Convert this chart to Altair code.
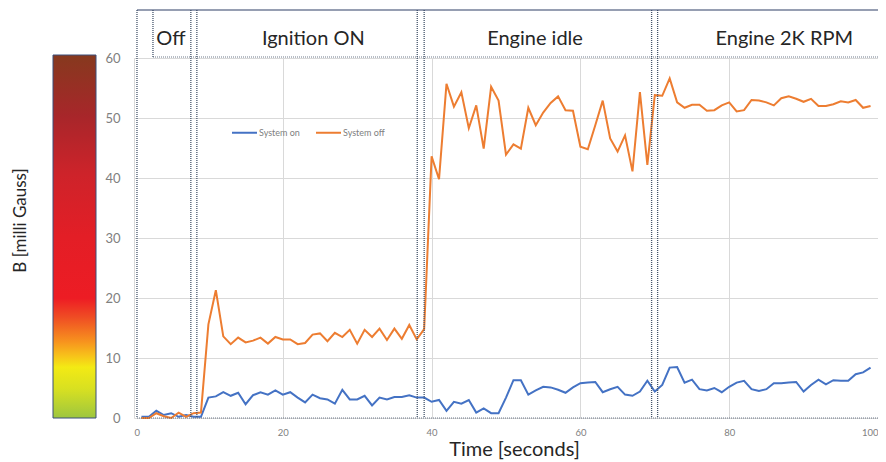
import altair as alt
import pandas as pd

t = list(range(1, 100))
system_on = [0.2, 0.2, 1.2, 0.5, 0.8, 0.2, 0.5, 0.2, 0.2, 3.4,
             3.6, 4.3, 3.7, 4.2, 2.3, 3.8, 4.3, 3.9, 4.6, 3.9,
             4.3, 3.4, 2.6, 3.9, 3.3, 3.1, 2.4, 4.7, 3.1, 3.1,
             3.7, 2.1, 3.4, 3.1, 3.5, 3.5, 3.8, 3.4, 3.4, 2.7,
             3.0, 1.2, 2.7, 2.4, 3.0, 0.9, 1.6, 0.8, 0.8, 3.4,
             6.3, 6.3, 3.9, 4.6, 5.2, 5.1, 4.7, 4.2, 5.1, 5.8,
             5.9, 6.0, 4.3, 4.8, 5.2, 3.9, 3.7, 4.4, 6.2, 4.4,
             5.5, 8.4, 8.5, 5.9, 6.4, 4.8, 4.6, 5.0, 4.3, 5.2,
             5.9, 6.2, 4.8, 4.5, 4.8, 5.8, 5.8, 5.9, 6.0, 4.4,
             5.5, 6.4, 5.6, 6.3, 6.2, 6.2, 7.3, 7.6, 8.4]
system_off = [0.0, 0.0, 0.8, 0.3, 0.0, 0.9, 0.2, 0.8, 0.9, 15.6,
              21.3, 13.6, 12.3, 13.4, 12.6, 12.9, 13.4, 12.4, 13.5, 13.1,
              13.1, 12.3, 12.5, 13.9, 14.1, 12.8, 14.2, 13.5, 14.7, 12.4,
              14.7, 13.5, 14.9, 13.0, 14.9, 13.2, 15.5, 13.1, 14.8, 43.6,
              39.8, 55.7, 51.9, 54.3, 48.3, 52.1, 44.9, 55.2, 52.9, 43.9,
              45.6, 44.9, 51.7, 48.8, 50.9, 52.5, 53.6, 51.3, 51.2, 45.2,
              44.8, 48.8, 52.9, 46.6, 44.4, 47.1, 41.1, 54.3, 42.2, 53.8,
              53.7, 56.6, 52.6, 51.7, 52.2, 52.2, 51.2, 51.3, 52.1, 52.6,
              51.1, 51.3, 53.0, 52.9, 52.6, 52.1, 53.3, 53.6, 53.2, 52.7,
              53.2, 52.0, 52.0, 52.3, 52.8, 52.6, 53.0, 51.7, 52.0]
series_names = ["System on", "System off"]
series_colors = ["#4472C4", "#ED7D31"]

section_names = ["Off", "Ignition ON", "Engine idle", "Engine 2K RPM"]
section_centers = [4.96, 24.1, 53.9, 87.4]
section_lines = [0.4, 7.64, 8.45, 38.07, 39.0, 69.57, 70.38]
off_box_left = [2.55]
frame_left, frame_right = 0.4, 100.6

x_ticks = [0, 20, 40, 60, 80, 100]
y_ticks = [0, 10, 20, 30, 40, 50, 60]

cbar_bottom, cbar_top = 0, 60.5
cbar_offsets = [0.0, 0.08, 0.14, 0.17, 0.21, 0.28, 0.33, 0.5, 0.67, 0.83, 1.0]
cbar_colors = ["#9DC63F", "#D8E021", "#F3EA14", "#F7C41A", "#F7931E", "#EF4A24",
               "#ED1C24", "#E31E26", "#CE232A", "#A8262A", "#86391E"]

FONT = "Lato"
NAVY = "#44546A"

lines_df = pd.DataFrame({
    "t": t * 2,
    "v": system_on + system_off,
    "series": [series_names[0]] * len(t) + [series_names[1]] * len(t),
})

x_enc = alt.X("t:Q", scale=alt.Scale(domain=[0, 100], nice=False),
              axis=alt.Axis(values=x_ticks, title="Time [seconds]", grid=True,
                            gridColor="#D9D9D9", domain=False, ticks=False,
                            labelFlush=True,
                            labelFontSize=9.5, labelColor="#808080", labelPadding=9,
                            titleFontSize=20, titleFontWeight="normal",
                            titleColor="#262626", titleX=380, titleY=37,
                            titleBaseline="alphabetic", titleAlign="center",
                            titleFont=FONT, labelFont=FONT))
y_enc = alt.Y("v:Q", scale=alt.Scale(domain=[0, 60], nice=False),
              axis=alt.Axis(values=y_ticks, title="B [milli Gauss]", grid=True,
                            gridColor="#D9D9D9", domain=False, ticks=False,
                            labelFlush=False,
                            labelFontSize=13, labelColor="#808080", labelPadding=14,
                            titleFontSize=17, titleFontWeight="normal",
                            titleColor="#262626", titleX=-114, titleY=162,
                            titleAngle=-90, titleBaseline="middle", titleAlign="center",
                            titleFont=FONT, labelFont=FONT))

lines = alt.Chart(lines_df).mark_line(strokeWidth=2).encode(
    x=x_enc, y=y_enc,
    color=alt.Color("series:N",
                    scale=alt.Scale(domain=series_names, range=series_colors),
                    legend=alt.Legend(orient="none", legendX=97, legendY=61,
                                      direction="horizontal", title=None,
                                      symbolType="stroke", symbolSize=625,
                                      symbolStrokeWidth=2, labelFontSize=9,
                                      labelColor="#808080", labelFont=FONT,
                                      columnPadding=12, labelOffset=1, padding=0)),
)

cbar_df = pd.DataFrame({"v": [cbar_bottom], "v2": [cbar_top]})
gradient = alt.Gradient(gradient="linear", x1=0, y1=1, x2=0, y2=0,
                        stops=[alt.GradientStop(offset=o, color=c)
                               for o, c in zip(cbar_offsets, cbar_colors)])
cbar = alt.Chart(cbar_df).mark_rect(fill=gradient, stroke="#3A4F7A", strokeWidth=1).encode(
    x=alt.value(-81), x2=alt.value(-38), y="v:Q", y2="v2:Q")

vlines = alt.Chart(pd.DataFrame({"t": section_lines})).mark_rule(
    color=NAVY, strokeDash=[1, 1], strokeWidth=1.3).encode(
    x="t:Q", y=alt.value(-48), y2=alt.value(360))
offline = alt.Chart(pd.DataFrame({"t": off_box_left})).mark_rule(
    color=NAVY, strokeDash=[1, 1], strokeWidth=1.3).encode(
    x="t:Q", y=alt.value(-48), y2=alt.value(-1))

top_line = alt.Chart(pd.DataFrame({"t": [frame_left], "t2": [frame_right + 2]})).mark_rule(
    color="#2F3F66", strokeWidth=1.2).encode(x="t:Q", x2="t2:Q", y=alt.value(-48))
label_base = alt.Chart(pd.DataFrame({"t": [off_box_left[0]], "t2": [frame_right]})).mark_rule(
    color=NAVY, strokeDash=[1, 1], strokeWidth=1.2, opacity=0.8).encode(
    x="t:Q", x2="t2:Q", y=alt.value(-1))
bottom_line = alt.Chart(pd.DataFrame({"t": [frame_left], "t2": [frame_right]})).mark_rule(
    color=NAVY, strokeDash=[1, 1], strokeWidth=1.2, opacity=0.8).encode(
    x="t:Q", x2="t2:Q", y=alt.value(360))

labels = alt.Chart(pd.DataFrame({"t": section_centers, "name": section_names})).mark_text(
    font=FONT, fontSize=20, color="#262626", baseline="alphabetic", align="center").encode(
    x="t:Q", y=alt.value(-13), text="name:N")

chart = alt.layer(cbar, lines, vlines, offline, top_line, label_base, bottom_line, labels).properties(
    width=744, height=360,
    autosize=alt.AutoSizeParams(type="none"),
    padding={"left": 126, "top": 50, "right": 0, "bottom": 44},
    background="white",
).configure_view(strokeWidth=0)

chart.save("out.html", embed_options={"renderer": "svg", "actions": False})
